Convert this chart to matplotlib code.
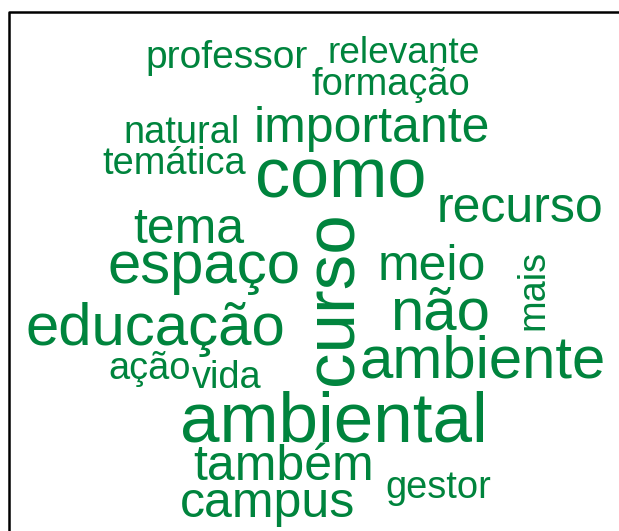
import matplotlib.pyplot as plt
import matplotlib
matplotlib.rcParams['font.family'] = ['Liberation Sans', 'DejaVu Sans']

# words and their weights (font size in px = 2*freq + 10)
words = ['ambiental', 'curso', 'como', 'ambiente', 'educação', 'espaço', 'não',
         'importante', 'recurso', 'tema', 'meio', 'também', 'campus',
         'professor', 'relevante', 'formação', 'natural', 'temática',
         'mais', 'ação', 'vida', 'gestor']
freq = [30.5, 30.5, 30, 25, 25, 25, 25,
        20, 20, 20, 20, 20, 20,
        14.5, 13.5, 14, 14, 14,
        14, 14, 14, 14]

# layout: left x, baseline y (pixels), rotation
pos_x = [180, 352, 255, 359, 25, 107, 390,
         254, 437, 133, 378, 193, 180,
         145, 328, 311, 123, 102,
         543, 108, 192, 385]
pos_y = [442, 385, 198, 378, 345, 283, 330,
         142, 222, 243, 280, 480, 517,
         68, 63, 95, 143, 174,
         330, 379, 388, 498]
rot = [0, 90, 0, 0, 0, 0, 0,
       0, 0, 0, 0, 0, 0,
       0, 0, 0, 0, 0,
       90, 0, 0, 0]

fig = plt.figure(figsize=(6.19, 5.31), dpi=100)
ax = fig.add_axes([0, 0, 1, 1])
ax.set_xlim(0, 619)
ax.set_ylim(531, 0)
ax.axis('off')

# frame (only top and left edges show)
ax.plot([9, 9, 619], [531, 12, 12], color='black', lw=1.8)

for w, f, x, y, r in zip(words, freq, pos_x, pos_y, rot):
    px = 2 * f + 10
    ax.text(x, y, w, fontsize=px * 0.72, color='#00843d', rotation=r,
            rotation_mode='anchor', ha='left', va='baseline')

plt.savefig('out.png', dpi=100)
